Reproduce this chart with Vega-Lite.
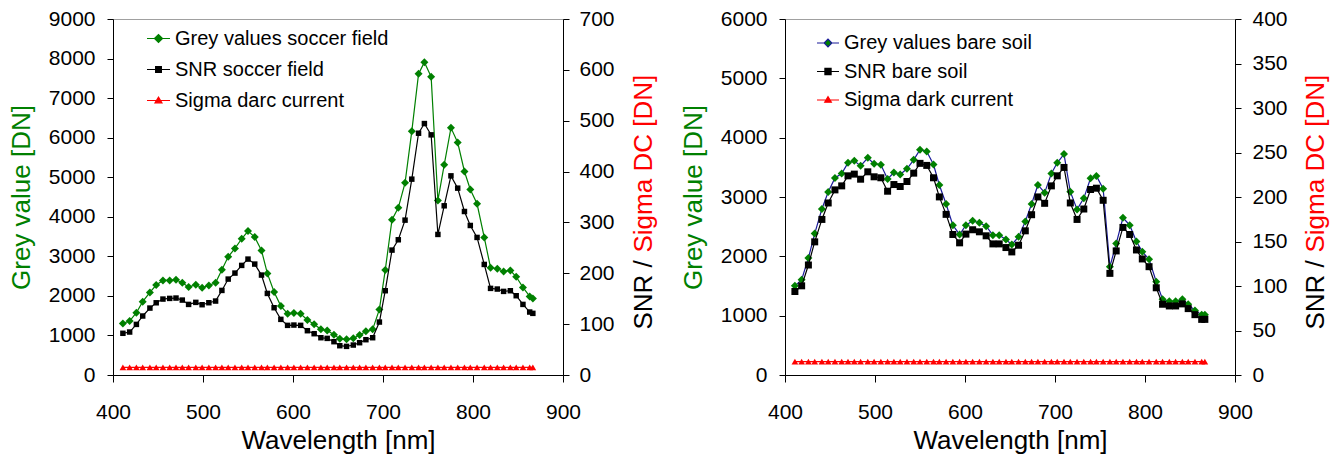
{
  "$schema": "https://vega.github.io/schema/vega-lite/v6.json",
  "padding": {"left": 7, "top": 7, "right": 5, "bottom": 5},
  "spacing": 22,
  "config": {
    "font": "Liberation Sans",
    "view": {"stroke": "#a0a0a0"},
    "axis": {
      "labelFont": "Liberation Sans", "labelFontSize": 21, "labelColor": "black",
      "titleFont": "Liberation Sans", "titleFontSize": 26, "titleFontWeight": "normal", "titleColor": "black",
      "domainColor": "black", "tickColor": "black", "grid": false, "labelFlush": false, "labelOverlap": false
    },
    "legend": {"labelFont": "Liberation Sans", "labelFontSize": 20, "labelColor": "black", "labelLimit": 500}
  },
  "datasets": {
    "soccer": [
      {"w":411,"g":1305,"n":82,"d":15},{"w":418.5,"g":1364,"n":84.5,"d":15},{"w":426,"g":1575,"n":99.5,"d":15},{"w":433,"g":1853,"n":116,"d":15},
      {"w":441,"g":2088,"n":131.6,"d":15},{"w":448,"g":2274,"n":142,"d":15},{"w":455.5,"g":2392,"n":149.3,"d":15},{"w":463,"g":2392,"n":150.6,"d":15},
      {"w":470,"g":2408,"n":151.3,"d":15},{"w":477,"g":2333,"n":147.3,"d":15},{"w":484,"g":2223,"n":138.8,"d":15},{"w":492,"g":2282,"n":142.8,"d":15},
      {"w":499,"g":2206,"n":138.2,"d":15},{"w":506.5,"g":2265,"n":142.1,"d":15},{"w":514,"g":2333,"n":145.4,"d":15},{"w":521,"g":2661,"n":166.3,"d":15},
      {"w":528,"g":2989,"n":188.6,"d":15},{"w":535.5,"g":3200,"n":200.4,"d":15},{"w":543,"g":3444,"n":215.5,"d":15},{"w":550,"g":3638,"n":227.9,"d":15},
      {"w":557.5,"g":3486,"n":218.1,"d":15},{"w":565,"g":3149,"n":196.5,"d":15},{"w":571.5,"g":2568,"n":160.4,"d":15},{"w":579,"g":2097,"n":132.3,"d":15},
      {"w":586.5,"g":1743,"n":109.4,"d":15},{"w":594,"g":1549,"n":97.6,"d":15},{"w":601,"g":1566,"n":98.2,"d":15},{"w":608.5,"g":1549,"n":97.6,"d":15},
      {"w":616,"g":1389,"n":87.1,"d":15},{"w":623.5,"g":1280,"n":81.2,"d":15},{"w":631,"g":1154,"n":73.3,"d":15},{"w":638,"g":1128,"n":72,"d":15},
      {"w":645.5,"g":1019,"n":65.5,"d":15},{"w":652,"g":918,"n":57.6,"d":15},{"w":659.5,"g":901,"n":56.3,"d":15},{"w":667,"g":926,"n":58.9,"d":15},
      {"w":674,"g":1011,"n":63.5,"d":15},{"w":681,"g":1103,"n":69.4,"d":15},{"w":688.5,"g":1154,"n":73.3,"d":15},{"w":696,"g":1659,"n":104.1,"d":15},
      {"w":702.5,"g":2653,"n":165.7,"d":15},{"w":710,"g":3924,"n":245.6,"d":15},{"w":717,"g":4227,"n":265.9,"d":15},{"w":724.5,"g":4859,"n":304.5,"d":15},
      {"w":732,"g":6164,"n":385.1,"d":15},{"w":739.5,"g":7613,"n":475.4,"d":15},{"w":746,"g":7907,"n":494.4,"d":15},{"w":753.5,"g":7537,"n":472.2,"d":15},
      {"w":761,"g":4413,"n":276.4,"d":15},{"w":768,"g":5314,"n":332.7,"d":15},{"w":775.5,"g":6248,"n":391.6,"d":15},{"w":783,"g":5878,"n":367.4,"d":15},
      {"w":790.5,"g":5145,"n":321.5,"d":15},{"w":797,"g":4691,"n":294,"d":15},{"w":804.5,"g":4328,"n":270.5,"d":15},{"w":812.5,"g":3478,"n":217.4,"d":15},
      {"w":819.5,"g":2712,"n":170.3,"d":15},{"w":827,"g":2686,"n":169,"d":15},{"w":834,"g":2619,"n":164.4,"d":15},{"w":841.5,"g":2644,"n":165.7,"d":15},
      {"w":848,"g":2484,"n":155.9,"d":15},{"w":855.5,"g":2215,"n":138.8,"d":15},{"w":863,"g":1987,"n":123.8,"d":15},{"w":866.5,"g":1937,"n":121.2,"d":15}
    ],
    "soil": [
      {"w":411,"g":1503,"n":93.8,"d":15},{"w":418.5,"g":1605,"n":100.2,"d":15},{"w":426,"g":1972,"n":123.6,"d":15},{"w":433,"g":2384,"n":149.6,"d":15},
      {"w":441,"g":2797,"n":174.8,"d":15},{"w":448,"g":3085,"n":193.3,"d":15},{"w":455.5,"g":3322,"n":208,"d":15},{"w":463,"g":3395,"n":212.5,"d":15},
      {"w":470,"g":3576,"n":223.8,"d":15},{"w":477,"g":3610,"n":225.7,"d":15},{"w":484,"g":3525,"n":220,"d":15},{"w":492,"g":3661,"n":228.3,"d":15},
      {"w":499,"g":3559,"n":222.7,"d":15},{"w":506.5,"g":3542,"n":221.6,"d":15},{"w":514,"g":3305,"n":206.5,"d":15},{"w":521,"g":3412,"n":214,"d":15},
      {"w":528,"g":3379,"n":211.8,"d":15},{"w":535.5,"g":3475,"n":217.4,"d":15},{"w":543,"g":3627,"n":226.8,"d":15},{"w":550,"g":3797,"n":237.8,"d":15},
      {"w":557.5,"g":3768,"n":235.5,"d":15},{"w":565,"g":3548,"n":221.6,"d":15},{"w":571.5,"g":3203,"n":200.1,"d":15},{"w":579,"g":2881,"n":180.5,"d":15},
      {"w":586.5,"g":2525,"n":157.9,"d":15},{"w":594,"g":2367,"n":148.5,"d":15},{"w":601,"g":2525,"n":158.3,"d":15},{"w":608.5,"g":2599,"n":163.2,"d":15},
      {"w":616,"g":2565,"n":160.9,"d":15},{"w":623.5,"g":2508,"n":156.4,"d":15},{"w":631,"g":2356,"n":147.3,"d":15},{"w":638,"g":2356,"n":147.3,"d":15},
      {"w":645.5,"g":2282,"n":143.2,"d":15},{"w":652,"g":2198,"n":138.3,"d":15},{"w":659.5,"g":2328,"n":145.8,"d":15},{"w":667,"g":2588,"n":162,"d":15},
      {"w":674,"g":2881,"n":180.1,"d":15},{"w":681,"g":3203,"n":200.1,"d":15},{"w":688.5,"g":3073,"n":192.9,"d":15},{"w":696,"g":3395,"n":212.5,"d":15},
      {"w":702.5,"g":3576,"n":223.8,"d":15},{"w":710,"g":3723,"n":233.2,"d":15},{"w":717,"g":3090,"n":193.3,"d":15},{"w":724.5,"g":2791,"n":174.8,"d":15},
      {"w":732,"g":2977,"n":186.5,"d":15},{"w":739.5,"g":3316,"n":208.4,"d":15},{"w":746,"g":3356,"n":209.9,"d":15},{"w":753.5,"g":3141,"n":196.3,"d":15},
      {"w":761,"g":1825,"n":114.2,"d":15},{"w":768,"g":2215,"n":139.4,"d":15},{"w":775.5,"g":2650,"n":165.8,"d":15},{"w":783,"g":2525,"n":157.9,"d":15},
      {"w":790.5,"g":2249,"n":140.5,"d":15},{"w":797,"g":2079,"n":130.4,"d":15},{"w":804.5,"g":1949,"n":121.7,"d":15},{"w":812.5,"g":1571,"n":98,"d":15},
      {"w":819.5,"g":1277,"n":79.5,"d":15},{"w":827,"g":1243,"n":77.6,"d":15},{"w":834,"g":1243,"n":77.6,"d":15},{"w":841.5,"g":1277,"n":79.9,"d":15},
      {"w":848,"g":1192,"n":74.6,"d":15},{"w":855.5,"g":1085,"n":67.8,"d":15},{"w":863,"g":1017,"n":62.5,"d":15},{"w":866.5,"g":1017,"n":62.5,"d":15}
    ]
  },
  "resolve": {"scale": {"shape": "independent", "fill": "independent", "stroke": "independent"}},
  "hconcat": [
    {
      "width": 450, "height": 356,
      "data": {"name": "soccer"},
      "encoding": {
        "x": {"field": "w", "type": "quantitative", "scale": {"domain": [400, 900], "nice": false, "zero": false},
              "axis": {"title": "Wavelength [nm]", "format": "d", "values": [400, 500, 600, 700, 800, 900], "tickSize": 7, "labelPadding": 19, "titlePadding": 5}}
      },
      "resolve": {"scale": {"y": "independent"}},
      "layer": [
        {
          "encoding": {
            "y": {"field": "g", "type": "quantitative", "scale": {"domain": [0, 9000], "nice": false},
                  "axis": {"orient": "left", "title": "Grey value [DN]", "format": "d", "titleColor": "#008000", "values": [0,1000,2000,3000,4000,5000,6000,7000,8000,9000],
                           "tickSize": 6, "labelPadding": 12, "titleAngle": 270, "titleX": -84, "titleBaseline": "alphabetic", "titleAlign": "center"}}
          },
          "layer": [
            {"mark": {"type": "line", "strokeWidth": 1.2, "color": "#008000"}},
            {"mark": {"type": "point", "shape": "diamond", "filled": true, "size": 64, "color": "#008000", "opacity": 1}},
            {"transform": [{"filter": "false"}],
             "mark": {"type": "point", "filled": true, "strokeWidth": 1.2, "opacity": 1},
             "encoding": {
               "shape": {"datum": "Grey values soccer field", "type": "nominal",
                 "scale": {"domain": ["Grey values soccer field", "SNR soccer field", "Sigma darc current"],
                           "range": ["M-1,0H-0.35M0.35,0H1M-0.35,0L0,-0.35L0.35,0L0,0.35Z", "M-1,0H-0.25M0.25,0H1M-0.25,-0.25H0.25V0.25H-0.25Z", "M-1,0H-0.2M0.2,0H1M-0.3,0.2L0,-0.3L0.3,0.2Z"]},
                 "legend": {"title": null, "orient": "none", "legendX": 33, "legendY": 7, "padding": 0, "symbolSize": 529, "symbolStrokeWidth": 1.2, "labelOffset": 4, "rowPadding": 8}},
               "fill": {"datum": "Grey values soccer field", "type": "nominal",
                 "scale": {"domain": ["Grey values soccer field", "SNR soccer field", "Sigma darc current"], "range": ["#008000", "#000000", "#ff0000"]},
                 "legend": {"title": null, "orient": "none", "legendX": 33, "legendY": 7, "padding": 0, "symbolSize": 529, "symbolStrokeWidth": 1.2, "labelOffset": 4, "rowPadding": 8}},
               "stroke": {"datum": "Grey values soccer field", "type": "nominal",
                 "scale": {"domain": ["Grey values soccer field", "SNR soccer field", "Sigma darc current"], "range": ["#008000", "#000000", "#ff0000"]},
                 "legend": {"title": null, "orient": "none", "legendX": 33, "legendY": 7, "padding": 0, "symbolSize": 529, "symbolStrokeWidth": 1.2, "labelOffset": 4, "rowPadding": 8}}
             }},
            {"transform": [{"filter": "false"}],
             "mark": {"type": "point", "filled": true, "strokeWidth": 1.2, "opacity": 1},
             "encoding": {
               "shape": {"datum": "SNR soccer field", "type": "nominal"},
               "fill": {"datum": "SNR soccer field", "type": "nominal"},
               "stroke": {"datum": "SNR soccer field", "type": "nominal"}
             }},
            {"transform": [{"filter": "false"}],
             "mark": {"type": "point", "filled": true, "strokeWidth": 1.2, "opacity": 1},
             "encoding": {
               "shape": {"datum": "Sigma darc current", "type": "nominal"},
               "fill": {"datum": "Sigma darc current", "type": "nominal"},
               "stroke": {"datum": "Sigma darc current", "type": "nominal"}
             }}
          ]
        },
        {
          "encoding": {
            "y": {"field": "n", "type": "quantitative", "scale": {"domain": [0, 700], "nice": false},
                  "axis": {"orient": "right", "title": "SNR / ", "format": "d", "titleColor": "black", "values": [0,100,200,300,400,500,600,700],
                           "tickSize": 6, "labelPadding": 10, "titleAngle": 270, "titleX": 88, "titleY": 310, "titleBaseline": "alphabetic", "titleAlign": "left"}}
          },
          "layer": [
            {"mark": {"type": "line", "strokeWidth": 1.2, "color": "#000000"}},
            {"mark": {"type": "point", "shape": "square", "filled": true, "size": 30, "color": "#000000", "opacity": 1}}
          ]
        },
        {
          "encoding": {
            "y": {"field": "d", "type": "quantitative", "scale": {"domain": [0, 700], "nice": false},
                  "axis": {"orient": "right", "title": "Sigma DC [DN]", "titleColor": "#ff0000", "labels": false, "ticks": false, "domain": false,
                           "titleAngle": 270, "titleX": 88, "titleY": 233, "titleBaseline": "alphabetic", "titleAlign": "left"}}
          },
          "layer": [
            {"mark": {"type": "line", "strokeWidth": 1.2, "color": "#ff0000"}},
            {"mark": {"type": "point", "shape": "triangle-up", "filled": true, "size": 45, "color": "#ff0000", "opacity": 1}}
          ]
        }
      ]
    },
    {
      "width": 450, "height": 356,
      "data": {"name": "soil"},
      "encoding": {
        "x": {"field": "w", "type": "quantitative", "scale": {"domain": [400, 900], "nice": false, "zero": false},
              "axis": {"title": "Wavelength [nm]", "format": "d", "values": [400, 500, 600, 700, 800, 900], "tickSize": 7, "labelPadding": 19, "titlePadding": 5}}
      },
      "resolve": {"scale": {"y": "independent"}},
      "layer": [
        {
          "encoding": {
            "y": {"field": "g", "type": "quantitative", "scale": {"domain": [0, 6000], "nice": false},
                  "axis": {"orient": "left", "title": "Grey value [DN]", "format": "d", "titleColor": "#008000", "values": [0,1000,2000,3000,4000,5000,6000],
                           "tickSize": 6, "labelPadding": 12, "titleAngle": 270, "titleX": -84, "titleBaseline": "alphabetic", "titleAlign": "center"}}
          },
          "layer": [
            {"mark": {"type": "line", "strokeWidth": 1.2, "color": "#1a1a99"}},
            {"mark": {"type": "point", "shape": "diamond", "filled": true, "size": 64, "color": "#008000", "opacity": 1}},
            {"transform": [{"filter": "false"}],
             "mark": {"type": "point", "filled": true, "strokeWidth": 1.2, "opacity": 1},
             "encoding": {
               "shape": {"datum": "Grey values bare soil", "type": "nominal",
                 "scale": {"domain": ["Grey values bare soil", "SNR bare soil", "Sigma dark current"],
                           "range": ["M-1,0H-0.35M0.35,0H1M-0.35,0L0,-0.35L0.35,0L0,0.35Z", "M-1,0H-0.28M0.28,0H1M-0.28,-0.28H0.28V0.28H-0.28Z", "M-1,0H-0.2M0.2,0H1M-0.3,0.2L0,-0.3L0.3,0.2Z"]},
                 "legend": {"title": null, "orient": "none", "legendX": 31, "legendY": 12, "padding": 0, "symbolSize": 484, "symbolStrokeWidth": 1.2, "labelOffset": 4, "rowPadding": 6.5}},
               "fill": {"datum": "Grey values bare soil", "type": "nominal",
                 "scale": {"domain": ["Grey values bare soil", "SNR bare soil", "Sigma dark current"], "range": ["#008000", "#000000", "#ff0000"]},
                 "legend": {"title": null, "orient": "none", "legendX": 31, "legendY": 12, "padding": 0, "symbolSize": 484, "symbolStrokeWidth": 1.2, "labelOffset": 4, "rowPadding": 6.5}},
               "stroke": {"datum": "Grey values bare soil", "type": "nominal",
                 "scale": {"domain": ["Grey values bare soil", "SNR bare soil", "Sigma dark current"], "range": ["#1a1a99", "#000000", "#ff0000"]},
                 "legend": {"title": null, "orient": "none", "legendX": 31, "legendY": 12, "padding": 0, "symbolSize": 484, "symbolStrokeWidth": 1.2, "labelOffset": 4, "rowPadding": 6.5}}
             }},
            {"transform": [{"filter": "false"}],
             "mark": {"type": "point", "filled": true, "strokeWidth": 1.2, "opacity": 1},
             "encoding": {
               "shape": {"datum": "SNR bare soil", "type": "nominal"},
               "fill": {"datum": "SNR bare soil", "type": "nominal"},
               "stroke": {"datum": "SNR bare soil", "type": "nominal"}
             }},
            {"transform": [{"filter": "false"}],
             "mark": {"type": "point", "filled": true, "strokeWidth": 1.2, "opacity": 1},
             "encoding": {
               "shape": {"datum": "Sigma dark current", "type": "nominal"},
               "fill": {"datum": "Sigma dark current", "type": "nominal"},
               "stroke": {"datum": "Sigma dark current", "type": "nominal"}
             }}
          ]
        },
        {
          "encoding": {
            "y": {"field": "n", "type": "quantitative", "scale": {"domain": [0, 400], "nice": false},
                  "axis": {"orient": "right", "title": "SNR / ", "format": "d", "titleColor": "black", "values": [0,50,100,150,200,250,300,350,400],
                           "tickSize": 6, "labelPadding": 11, "titleAngle": 270, "titleX": 88, "titleY": 310, "titleBaseline": "alphabetic", "titleAlign": "left"}}
          },
          "layer": [
            {"mark": {"type": "line", "strokeWidth": 1.2, "color": "#000000"}},
            {"mark": {"type": "point", "shape": "square", "filled": true, "size": 49, "color": "#000000", "opacity": 1}}
          ]
        },
        {
          "encoding": {
            "y": {"field": "d", "type": "quantitative", "scale": {"domain": [0, 400], "nice": false},
                  "axis": {"orient": "right", "title": "Sigma DC [DN]", "titleColor": "#ff0000", "labels": false, "ticks": false, "domain": false,
                           "titleAngle": 270, "titleX": 88, "titleY": 233, "titleBaseline": "alphabetic", "titleAlign": "left"}}
          },
          "layer": [
            {"mark": {"type": "line", "strokeWidth": 1.2, "color": "#ff0000"}},
            {"mark": {"type": "point", "shape": "triangle-up", "filled": true, "size": 45, "color": "#ff0000", "opacity": 1}}
          ]
        }
      ]
    }
  ]
}
